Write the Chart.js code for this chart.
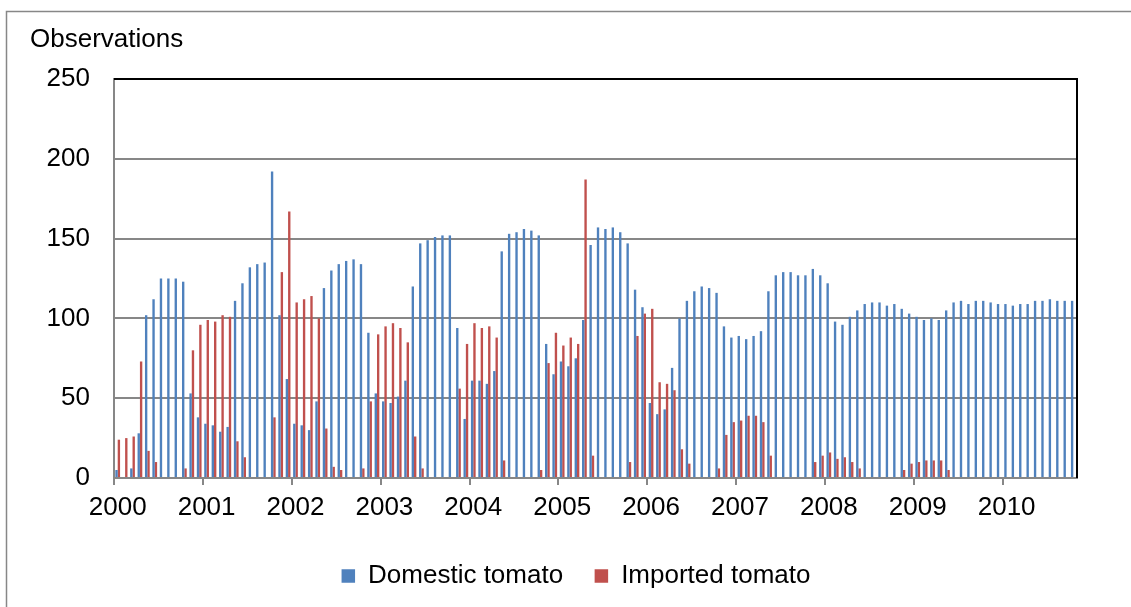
<!DOCTYPE html>
<html>
<head>
<meta charset="utf-8">
<script src="https://cdn.jsdelivr.net/npm/chart.js@4/dist/chart.umd.min.js"></script>
<style>
  html, body { margin: 0; padding: 0; background: #ffffff; }
  #wrap { width: 1131px; height: 607px; }
</style>
</head>
<body>
<div id="wrap"><canvas id="chart" width="1131" height="607"></canvas></div>
<script>
// Monthly observation counts, January 2000 – October 2010
const years = ['2000','2001','2002','2003','2004','2005','2006','2007','2008','2009','2010'];
const months = ['01','02','03','04','05','06','07','08','09','10','11','12'];
const monthsInLastYear = 10;

// Tick labels shown under each January
const tickLabels = ['2000','2001','2002','2003','2004','2005','2006','2007','2008','2009','2010'];

const domestic2000 = [5, 0, 6, 28, 102, 112, 125, 125, 125, 123, 53, 38];
const domestic2001 = [34, 33, 29, 32, 111, 122, 132, 134, 135, 192, 102, 62];
const domestic2002 = [34, 33, 30, 48, 119, 130, 134, 136, 137, 134, 91, 53];
const domestic2003 = [48, 47, 51, 61, 120, 147, 149, 151, 152, 152, 94, 37];
const domestic2004 = [61, 61, 59, 67, 142, 153, 154, 156, 155, 152, 84, 65];
const domestic2005 = [73, 70, 75, 99, 146, 157, 156, 157, 154, 147, 118, 107];
const domestic2006 = [47, 40, 43, 69, 100, 111, 117, 120, 119, 116, 95, 88];
const domestic2007 = [89, 87, 89, 92, 117, 127, 129, 129, 127, 127, 131, 127];
const domestic2008 = [122, 98, 96, 101, 105, 109, 110, 110, 108, 109, 106, 103];
const domestic2009 = [101, 99, 100, 99, 105, 110, 111, 109, 111, 111, 110, 109];
const domestic2010 = [109, 108, 109, 109, 111, 111, 112, 111, 111, 111];

const imported2000 = [24, 25, 26, 73, 17, 10, 0, 0, 0, 6, 80, 96];
const imported2001 = [99, 98, 102, 101, 23, 13, 0, 0, 0, 38, 129, 167];
const imported2002 = [110, 112, 114, 100, 31, 7, 5, 0, 0, 6, 48, 90];
const imported2003 = [95, 97, 94, 85, 26, 6, 0, 0, 0, 0, 56, 84];
const imported2004 = [97, 94, 95, 88, 11, 0, 0, 0, 0, 5, 72, 91];
const imported2005 = [83, 88, 84, 187, 14, 0, 0, 0, 0, 10, 89, 103];
const imported2006 = [106, 60, 59, 55, 18, 9, 0, 0, 0, 6, 27, 35];
const imported2007 = [36, 39, 39, 35, 14, 0, 0, 0, 0, 0, 10, 14];
const imported2008 = [16, 12, 13, 10, 6, 0, 0, 0, 0, 0, 5, 9];
const imported2009 = [10, 11, 11, 11, 5, 0, 0, 0, 0, 0, 0, 0];
const imported2010 = [0, 0, 0, 0, 0, 0, 0, 0, 0, 0];

// Category labels: one per month
const categories = [];
years.forEach((y, i) => {
  const n = i === years.length - 1 ? monthsInLastYear : months.length;
  for (let m = 0; m < n; m++) categories.push(y + '-' + months[m]);
});

const domestic = [].concat(domestic2000, domestic2001, domestic2002, domestic2003, domestic2004,
  domestic2005, domestic2006, domestic2007, domestic2008, domestic2009, domestic2010);
const imported = [].concat(imported2000, imported2001, imported2002, imported2003, imported2004,
  imported2005, imported2006, imported2007, imported2008, imported2009, imported2010);

const FONT = "'Liberation Sans', Arial, sans-serif";
const AXIS_GREY = '#878787';

// Outer frame, plot-area top/right border, and the axis caption
const framePlugin = {
  id: 'frame',
  beforeDraw(chart) {
    const ctx = chart.ctx;
    ctx.save();
    ctx.fillStyle = '#ffffff';
    ctx.fillRect(0, 0, chart.width, chart.height);
    ctx.strokeStyle = AXIS_GREY;
    ctx.lineWidth = 1.5;
    ctx.beginPath();
    ctx.moveTo(6.5, chart.height);
    ctx.lineTo(6.5, 11.5);
    ctx.lineTo(chart.width, 11.5);
    ctx.stroke();
    ctx.restore();
  },
  afterDraw(chart) {
    const ctx = chart.ctx;
    const a = chart.chartArea;
    ctx.save();
    ctx.strokeStyle = '#000000';
    ctx.lineWidth = 2;
    ctx.beginPath();
    ctx.moveTo(a.left, a.top);
    ctx.lineTo(a.right, a.top);
    ctx.lineTo(a.right, a.bottom);
    ctx.stroke();
    ctx.fillStyle = '#000000';
    ctx.font = '26px ' + FONT;
    ctx.textBaseline = 'alphabetic';
    ctx.textAlign = 'left';
    ctx.fillText('Observations', 30, 46.5);
    ctx.restore();
  }
};

new Chart(document.getElementById('chart'), {
  type: 'bar',
  data: {
    labels: categories,
    datasets: [
      {
        label: 'Domestic tomato',
        data: domestic,
        backgroundColor: '#4F81BD',
        borderWidth: 0,
        categoryPercentage: 0.64,
        barPercentage: 1.0
      },
      {
        label: 'Imported tomato',
        data: imported,
        backgroundColor: '#C0504D',
        borderWidth: 0,
        categoryPercentage: 0.64,
        barPercentage: 1.0
      }
    ]
  },
  options: {
    responsive: false,
    animation: false,
    devicePixelRatio: 1,
    layout: { padding: { left: 21, right: 0, top: 79, bottom: 8 } },
    plugins: {
      title: { display: false },
      tooltip: { enabled: false },
      legend: {
        position: 'bottom',
        align: 'center',
        labels: {
          font: { family: FONT, size: 26 },
          color: '#000000',
          boxWidth: 13.5,
          boxHeight: 13.5,
          padding: 31.5
        }
      }
    },
    scales: {
      x: {
        type: 'category',
        offset: true,
        grid: {
          display: true,
          offset: true,
          drawOnChartArea: false,
          drawTicks: true,
          tickLength: 7,
          lineWidth: 2,
          color: (ctx) => (ctx.index !== undefined && ctx.index % 12 === 0) ? AXIS_GREY : 'rgba(0,0,0,0)'
        },
        border: { display: true, color: AXIS_GREY, width: 2 },
        ticks: {
          autoSkip: false,
          maxRotation: 0,
          minRotation: 0,
          padding: 7.4,
          color: '#000000',
          font: { family: FONT, size: 26 },
          callback: (value, index) => index % 12 === 0 ? tickLabels[index / 12] : ''
        },
        afterFit: (scale) => { scale.height = 53.5; }
      },
      y: {
        position: 'left',
        min: 0,
        max: 250,
        grid: {
          drawTicks: false,
          lineWidth: 2,
          color: (ctx) => (ctx.tick && ctx.tick.value === 250) ? '#000000' : AXIS_GREY
        },
        border: { display: true, color: AXIS_GREY, width: 2 },
        ticks: {
          stepSize: 50,
          padding: 24,
          color: '#000000',
          font: { family: FONT, size: 26 }
        },
        afterFit: (scale) => { scale.width = 93; }
      },
      // Blank margin to the right of the plot area
      yRight: {
        position: 'right',
        min: 0,
        max: 250,
        grid: { display: false, drawTicks: false },
        border: { display: false },
        ticks: { display: false },
        afterFit: (scale) => { scale.width = 54; }
      }
    }
  },
  plugins: [framePlugin]
});
</script>
</body>
</html>
